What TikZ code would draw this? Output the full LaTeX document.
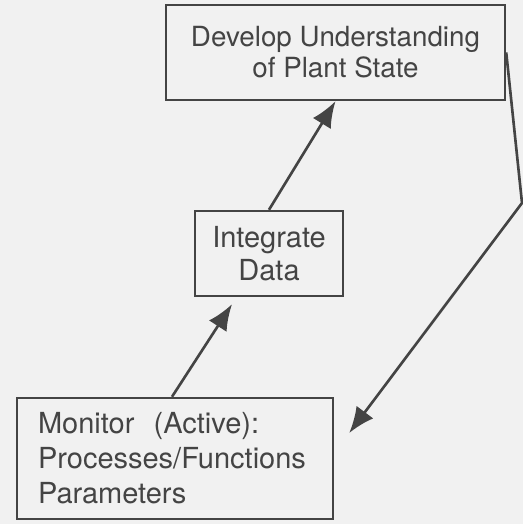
\documentclass[tikz,border=0pt]{standalone}
\usepackage{fontspec}
\setmainfont{TeX Gyre Heros}
\usetikzlibrary{arrows.meta}
\definecolor{ink}{HTML}{444444}
\definecolor{paper}{HTML}{F1F1F1}
\begin{document}
\begin{tikzpicture}[
    every node/.style = {text=ink},
    box/.style = {draw=ink, line width=1.4pt, fill=paper, inner sep=0pt,
                  font=\fontsize{16.5}{18.8}\selectfont, align=center},
    flow/.style = {draw=ink, line width=1.5pt, -{Latex[length=0.52cm,width=0.42cm]}}]
                  \fill[paper] (0,0) rectangle (10.46,10.48);
                  \useasboundingbox (0,0) rectangle (10.46,10.48);
                  \node[box, minimum width=6.78cm, minimum height=1.9cm,
                        font=\fontsize{15.8}{17.6}\selectfont] (develop) at (6.71,9.43)
                        {Develop Understanding\\of Plant State};
                  \node[box, minimum width=2.96cm, minimum height=1.7cm] (integrate) at (5.38,5.41)
                        {Integrate\\Data};
                  \node[box, minimum width=6.32cm, minimum height=2.42cm, text width=5.48cm,
                        inner xsep=0.42cm, align=left,
                        font=\fontsize{16.5}{19.9}\selectfont] (monitor) at (3.5,1.31)
                        {Monitor\ \ (Active):\\Processes/Functions\\Parameters};
                  \coordinate (bend) at (10.44,6.42);
                  \draw[flow] ([xshift=-0.06cm]monitor.north) -- ([xshift=-0.74cm,yshift=-0.14cm]integrate.south);
                  \draw[flow] (integrate.north) -- (develop.south);
                  \draw[flow] (develop.east) -- (bend) -- ([xshift=0.3cm,yshift=0.51cm]monitor.east);
              \end{tikzpicture}
\end{document}
